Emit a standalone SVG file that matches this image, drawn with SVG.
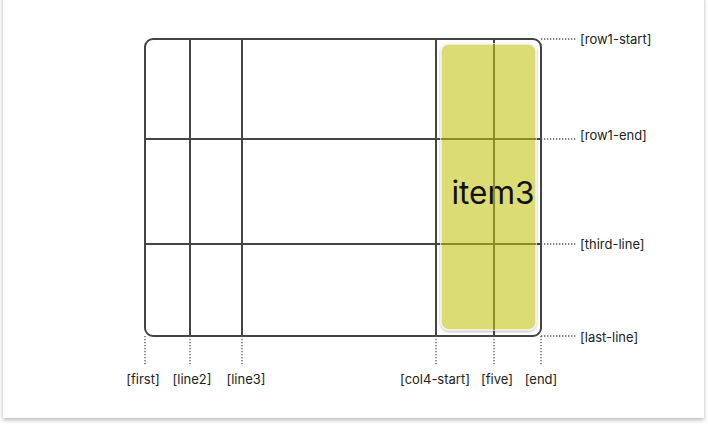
<svg xmlns="http://www.w3.org/2000/svg" width="708" height="428" viewBox="0 0 708 428">
<defs>
<filter id="card" x="-5%" y="-5%" width="110%" height="112%"><feDropShadow dx="0" dy="2" stdDeviation="2" flood-color="#000" flood-opacity="0.28"/></filter>
<filter id="itm" x="-20%" y="-10%" width="140%" height="120%"><feDropShadow dx="0" dy="1" stdDeviation="1.2" flood-color="#000" flood-opacity="0.3"/></filter>
<style>
.g{stroke:#444;stroke-width:2;fill:none}
.o{stroke:#8c8c24;stroke-width:2;fill:none}
.d{stroke:#555;stroke-width:1.3;stroke-dasharray:1.3 1.7;fill:none}
.t{font-family:Inter,"Liberation Sans",sans-serif;font-size:13px;fill:#222}
.c{text-anchor:middle}
</style>
</defs>
<rect x="0" y="0" width="708" height="428" fill="#fff"/>
<rect x="3" y="-4" width="701" height="422" fill="#fff" filter="url(#card)"/>
<g id="grid">
<rect class="g" x="145" y="39" width="396" height="297" rx="8"/>
<line class="g" x1="190" y1="39" x2="190" y2="336"/>
<line class="g" x1="242" y1="39" x2="242" y2="336"/>
<line class="g" x1="436" y1="39" x2="436" y2="336"/>
<line class="g" x1="494" y1="39" x2="494" y2="336"/>
<line class="g" x1="145" y1="139" x2="541" y2="139"/>
<line class="g" x1="145" y1="244" x2="541" y2="244"/>
</g>
<g id="item3">
<rect x="441" y="44" width="95" height="286" rx="8" fill="#dcdc74" stroke="#f4f4f0" stroke-width="1.5" filter="url(#itm)"/>
<text x="493" y="204" font-family="Inter,'Liberation Sans',sans-serif" font-size="31.5" fill="#111" text-anchor="middle">item3</text>
<line class="o" x1="494" y1="44" x2="494" y2="330"/>
<line class="o" x1="441" y1="139" x2="536" y2="139"/>
<line class="o" x1="441" y1="244" x2="536" y2="244"/>
</g>
<g id="connectors">
<line class="d" x1="541" y1="39" x2="577" y2="39"/>
<line class="d" x1="541" y1="139" x2="577" y2="139"/>
<line class="d" x1="541" y1="244" x2="577" y2="244"/>
<line class="d" x1="541" y1="336" x2="577" y2="336"/>
<line class="d" x1="145" y1="336" x2="145" y2="365"/>
<line class="d" x1="190" y1="336" x2="190" y2="365"/>
<line class="d" x1="242" y1="336" x2="242" y2="365"/>
<line class="d" x1="436" y1="336" x2="436" y2="365"/>
<line class="d" x1="494" y1="336" x2="494" y2="365"/>
<line class="d" x1="541" y1="336" x2="541" y2="365"/>
</g>
<g id="labels">
<text class="t" x="580" y="44">[row1-start]</text>
<text class="t" x="580" y="140">[row1-end]</text>
<text class="t" x="580" y="249">[third-line]</text>
<text class="t" x="580" y="342">[last-line]</text>
<text class="t c" x="143" y="384">[first]</text>
<text class="t c" x="192" y="384">[line2]</text>
<text class="t c" x="246" y="384">[line3]</text>
<text class="t c" x="435" y="384">[col4-start]</text>
<text class="t c" x="497" y="384">[five]</text>
<text class="t c" x="541" y="384">[end]</text>
</g>
</svg>
